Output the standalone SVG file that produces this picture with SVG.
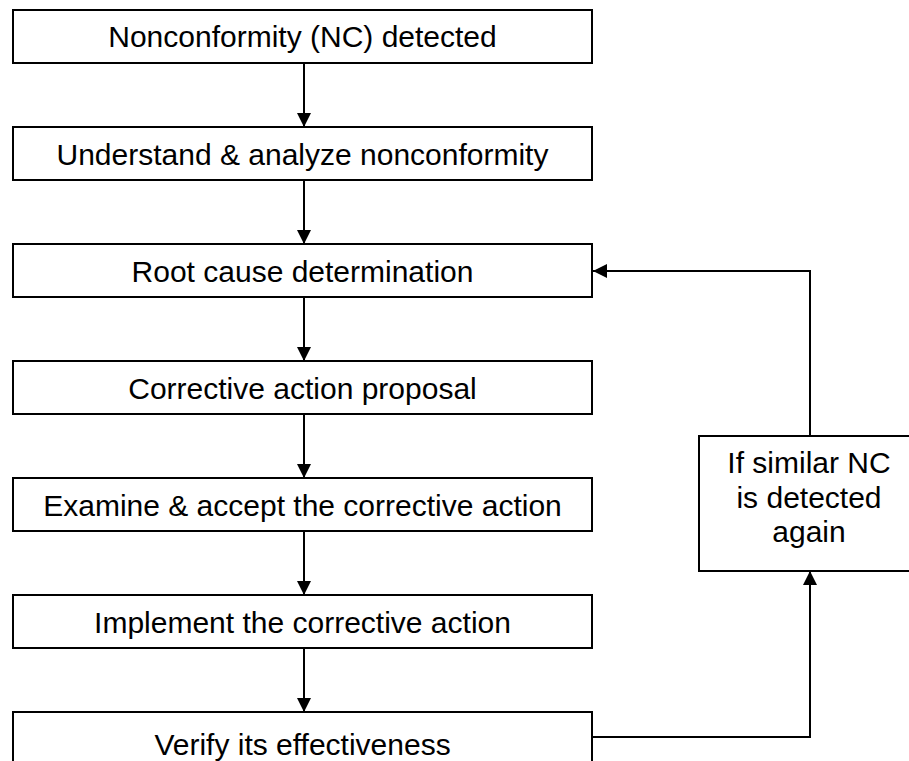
<svg xmlns="http://www.w3.org/2000/svg" width="909" height="761" viewBox="0 0 909 761">
<style>
.box{fill:#fff;stroke:#000;stroke-width:2}
.t{font-family:"Liberation Sans",Arial,sans-serif;font-size:30px;fill:#000;text-anchor:middle}
.c{fill:none;stroke:#000;stroke-width:2}
</style>
<defs>
<marker id="ah" viewBox="0 0 14 14" refX="14" refY="7" markerWidth="14" markerHeight="14" markerUnits="userSpaceOnUse" orient="auto">
<path d="M0,0 L14,7 L0,14 Z" fill="#000"/>
</marker>
</defs>
<rect width="909" height="761" fill="#fff"/>
<g id="connectors">
<line class="c" x1="304" y1="63" x2="304" y2="127" marker-end="url(#ah)"/>
<line class="c" x1="304" y1="180" x2="304" y2="244" marker-end="url(#ah)"/>
<line class="c" x1="304" y1="297" x2="304" y2="361" marker-end="url(#ah)"/>
<line class="c" x1="304" y1="414" x2="304" y2="478" marker-end="url(#ah)"/>
<line class="c" x1="304" y1="531" x2="304" y2="595" marker-end="url(#ah)"/>
<line class="c" x1="304" y1="648" x2="304" y2="712" marker-end="url(#ah)"/>
<polyline class="c" points="592,737 810,737 810,571" marker-end="url(#ah)"/>
<polyline class="c" points="810,436 810,271 593,271" marker-end="url(#ah)"/>
</g>
<g id="n1"><rect class="box" x="13" y="10" width="579" height="53"/><text class="t" x="302.5" y="47">Nonconformity (NC) detected</text></g>
<g id="n2"><rect class="box" x="13" y="127" width="579" height="53"/><text class="t" x="302.5" y="165">Understand &amp; analyze nonconformity</text></g>
<g id="n3"><rect class="box" x="13" y="244" width="579" height="53"/><text class="t" x="302.5" y="282">Root cause determination</text></g>
<g id="n4"><rect class="box" x="13" y="361" width="579" height="53"/><text class="t" x="302.5" y="399">Corrective action proposal</text></g>
<g id="n5"><rect class="box" x="13" y="478" width="579" height="53"/><text class="t" x="302.5" y="516">Examine &amp; accept the corrective action</text></g>
<g id="n6"><rect class="box" x="13" y="595" width="579" height="53"/><text class="t" x="302.5" y="633">Implement the corrective action</text></g>
<g id="n7"><rect class="box" x="13" y="712" width="579" height="70"/><text class="t" x="302.5" y="755">Verify its effectiveness</text></g>
<g id="n8"><rect class="box" x="699" y="436" width="224" height="135"/>
<text class="t" x="809" y="473">If similar NC</text>
<text class="t" x="809" y="508">is detected</text>
<text class="t" x="809" y="542">again</text></g>
</svg>
